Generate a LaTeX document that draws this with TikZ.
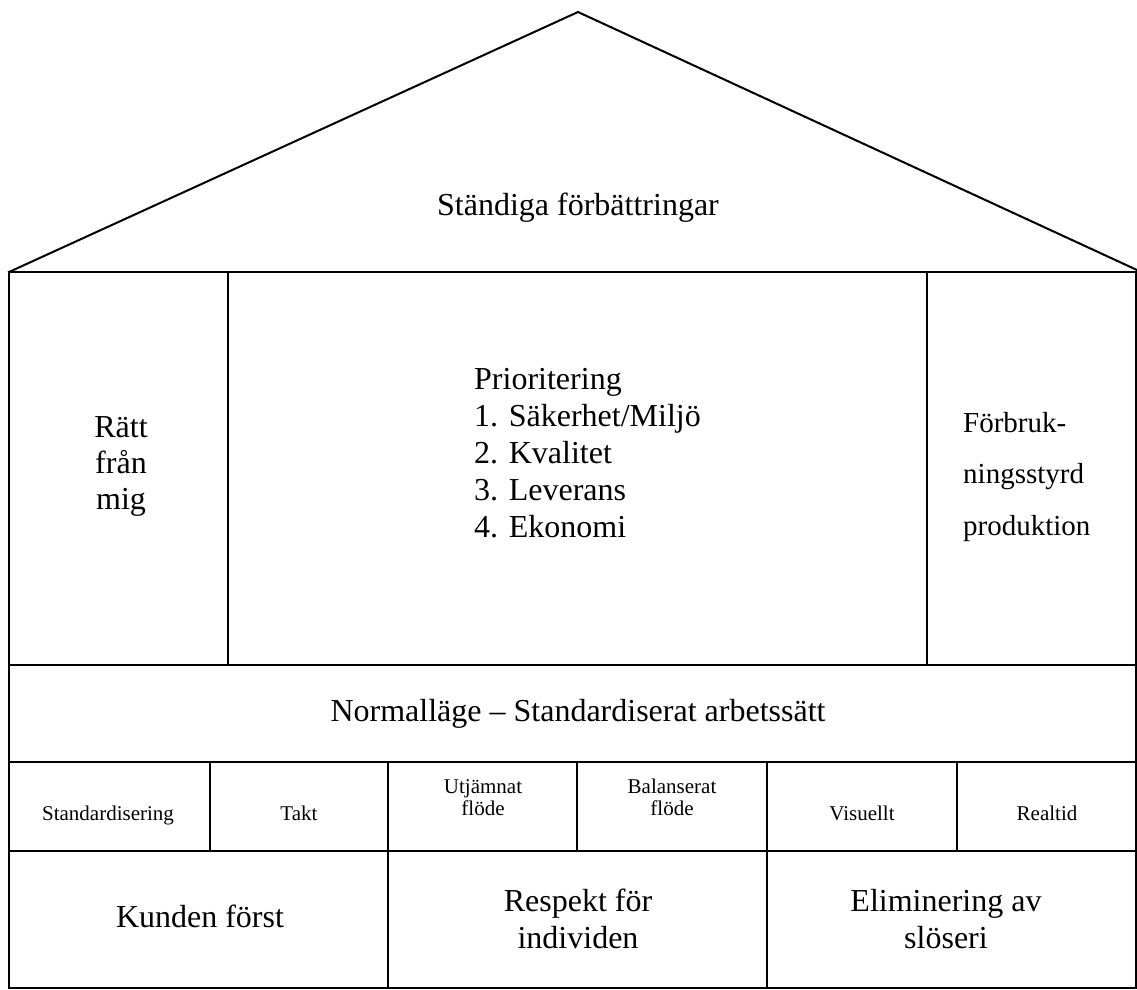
\documentclass[tikz,border=0pt]{standalone}
\usepackage{fontspec}
\setmainfont{Liberation Serif}
\begin{document}
\begin{tikzpicture}[x=1pt,y=-1pt,
  wall/.style={line width=2pt,line cap=rect},
  txt/.style={inner sep=0pt,anchor=base},
  big/.style={txt,font=\fontsize{32}{37}\selectfont,align=center},
  small/.style={txt,font=\fontsize{21}{22}\selectfont,align=center},
  mid/.style={txt,font=\fontsize{29}{51.5}\selectfont,align=left}]
\useasboundingbox (0,0) rectangle (1137,989);
% roof
\draw[wall,line join=miter] (9,272) -- (578,12) -- (1137,270);
% outer frame and floors
\draw[wall] (9,272) -- (1136,272);
\draw[wall] (9,272) -- (9,988) -- (1136,988) -- (1136,272);
\draw[wall] (9,665) -- (1136,665);
\draw[wall] (9,762) -- (1136,762);
\draw[wall] (9,851) -- (1136,851);
% pillars
\draw[wall] (228,272) -- (228,665);
\draw[wall] (927,272) -- (927,665);
% small row dividers
\foreach \x in {210,388,577,767,957} \draw[wall] (\x,762) -- (\x,851);
% foundation dividers
\draw[wall] (388,851) -- (388,988);
\draw[wall] (767,851) -- (767,988);
% texts (base anchor = baseline of the last line)
\node[big] (roof) at (578,215) {Ständiga förbättringar};
\node[big,font=\fontsize{32}{36}\selectfont] (left) at (121,509) {Rätt\\från\\mig};
\node[big,align=left,anchor=base west] (prio) at (474,537) {Prioritering\\1. Säkerhet/Miljö\\2. Kvalitet\\3. Leverans\\4. Ekonomi};
\node[mid,anchor=base west] (right) at (963,535) {Förbruk-\\ningsstyrd\\produktion};
\node[big] (norm) at (578,721) {Normalläge – Standardiserat arbetssätt};
\node[small] (s1) at (108,820) {Standardisering};
\node[small] (s2) at (299,820) {Takt};
\node[small] (s3) at (483,815) {Utjämnat\\flöde};
\node[small] (s4) at (672,815) {Balanserat\\flöde};
\node[small] (s5) at (862,820) {Visuellt};
\node[small] (s6) at (1047,820) {Realtid};
\node[big] (f1) at (200,927) {Kunden först};
\node[big] (f2) at (578,948) {Respekt för\\individen};
\node[big] (f3) at (946,948) {Eliminering av\\slöseri};
\end{tikzpicture}
\end{document}
